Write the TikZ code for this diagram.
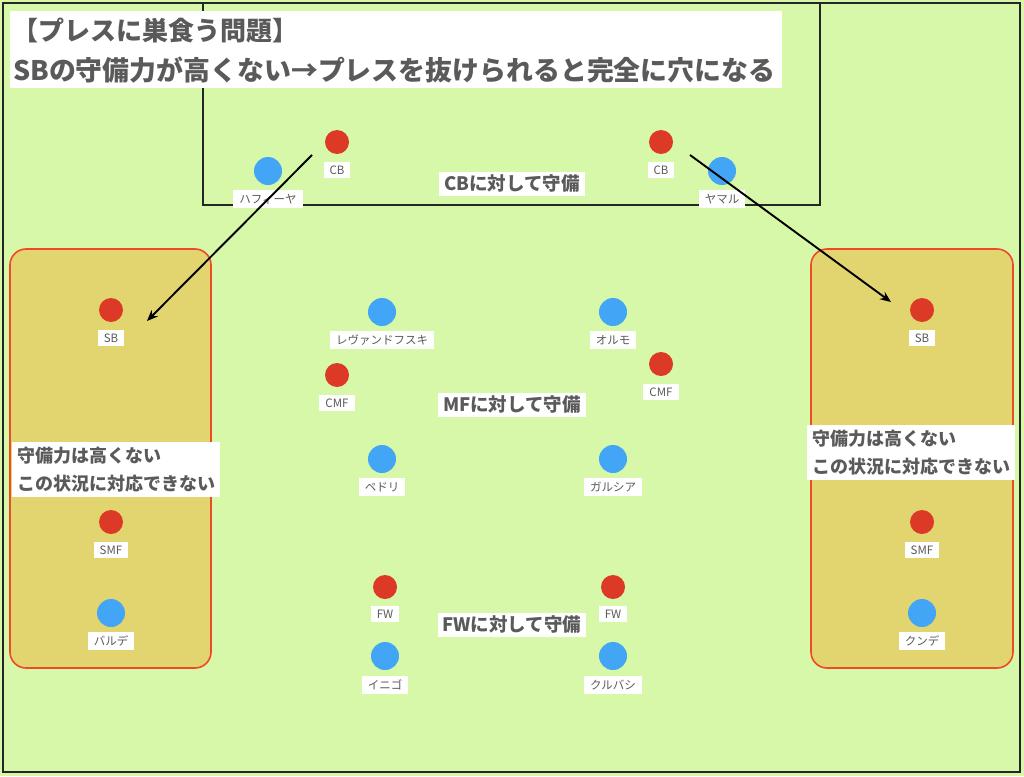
\documentclass[tikz,border=0pt]{standalone}
\usepackage{fontspec}
\newfontfamily\cjk{Noto Sans CJK JP}
\usetikzlibrary{arrows.meta}
\definecolor{pitch}{HTML}{D6F8A8}
\definecolor{zonefill}{HTML}{E2D570}
\definecolor{zoneline}{HTML}{EE4A2A}
\definecolor{reddot}{HTML}{DC3A27}
\definecolor{bluedot}{HTML}{42A5F5}
\definecolor{txt}{HTML}{5A5A5A}
\tikzset{
  rdot/.style={circle,fill=reddot,minimum size=24pt,inner sep=0pt},
  bdot/.style={circle,fill=bluedot,minimum size=28pt,inner sep=0pt},
  tag/.style={fill=white,text=txt,font=\cjk\fontsize{11.5}{13}\selectfont,inner xsep=6pt,inner ysep=4pt},
  zonelbl/.style={fill=white,text=txt,font=\cjk\bfseries\fontsize{18.5}{21}\selectfont,inner xsep=5pt,inner ysep=3pt},
  note/.style={fill=white,text=txt,font=\cjk\bfseries\fontsize{18}{28}\selectfont,align=left,inner xsep=5pt,inner ysep=5pt},
  zone/.style={fill=zonefill,draw=zoneline,line width=1.6pt,rounded corners=16pt},
  fieldline/.style={draw=black!85,line width=1.3pt},
  press/.style={draw=black,line width=1.9pt,-{Stealth[length=11pt,width=9pt]}},
}
\begin{document}
\begin{tikzpicture}[x=1pt,y=-1pt]
\fill[pitch] (0,0) rectangle (1024,776);
\useasboundingbox (0,0) rectangle (1024,776);
\draw[fieldline] (3,3) rectangle (1020,772);
\draw[fieldline] (203,3) -- (203,205) -- (820,205) -- (820,3);
% zones
\draw[zone] (10,249) rectangle (211,668);
\draw[zone] (811,249) rectangle (1013,668);
% title
\fill[white] (10,11) rectangle (782,88);
\node[anchor=west,text=txt,font=\cjk\bfseries\fontsize{26}{30}\selectfont,inner sep=0pt] (title1) at (12,31) {【プレスに巣食う問題】};
\node[anchor=west,text=txt,font=\cjk\bfseries\fontsize{26.9}{30}\selectfont,inner sep=0pt] (title2) at (13,70) {SBの守備力が高くない→プレスを抜けられると完全に穴になる};
% CB line
\node[rdot] (cbL) at (337,142) {};
\node[tag] (cbLt) at (337,170) {CB};
\node[rdot] (cbR) at (661,142) {};
\node[tag] (cbRt) at (661,170) {CB};
\node[bdot] (hafi) at (268,171) {};
\node[tag] (hafit) at (268,199) {ハフィーヤ};
\node[bdot] (yama) at (722,171) {};
\node[tag] (yamat) at (722,199) {ヤマル};
\node[zonelbl] (cbz) at (512,184) {CBに対して守備};
% SB
\node[rdot] (sbL) at (111,310) {};
\node[tag] (sbLt) at (111,338) {SB};
\node[rdot] (sbR) at (922,310) {};
\node[tag] (sbRt) at (922,338) {SB};
% MF area
\node[bdot] (lewa) at (382,312) {};
\node[tag] (lewat) at (382,340) {レヴァンドフスキ};
\node[bdot] (olmo) at (613,312) {};
\node[tag] (olmot) at (613,340) {オルモ};
\node[rdot] (cmfL) at (337,375) {};
\node[tag] (cmfLt) at (337,403) {CMF};
\node[rdot] (cmfR) at (661,364) {};
\node[tag] (cmfRt) at (661,392) {CMF};
\node[zonelbl] (mfz) at (512,405) {MFに対して守備};
\node[bdot] (pedr) at (382,459) {};
\node[tag] (pedrt) at (382,487) {ペドリ};
\node[bdot] (garc) at (613,459) {};
\node[tag] (garct) at (613,487) {ガルシア};
% notes
\node[note,anchor=north west] (noteL) at (12,442) {守備力は高くない\\この状況に対応できない};
\node[note,anchor=north west] (noteR) at (807,425) {守備力は高くない\\この状況に対応できない};
% SMF and wide
\node[rdot] (smfL) at (111,522) {};
\node[tag] (smfLt) at (111,550) {SMF};
\node[rdot] (smfR) at (922,522) {};
\node[tag] (smfRt) at (922,550) {SMF};
\node[bdot] (bald) at (111,613) {};
\node[tag] (baldt) at (111,641) {バルデ};
\node[bdot] (kund) at (922,613) {};
\node[tag] (kundt) at (922,641) {クンデ};
% FW
\node[rdot] (fwL) at (385,587) {};
\node[tag] (fwLt) at (385,614) {FW};
\node[rdot] (fwR) at (613,587) {};
\node[tag] (fwRt) at (613,614) {FW};
\node[zonelbl] (fwz) at (512,625) {FWに対して守備};
\node[bdot] (inig) at (385,656) {};
\node[tag] (inigt) at (385,685) {イニゴ};
\node[bdot] (kuba) at (613,656) {};
\node[tag] (kubat) at (613,685) {クルバシ};
% press arrows
\coordinate (aLs) at (312,155);
\coordinate (aLe) at (147,321);
\coordinate (aRs) at (690,155);
\coordinate (aRe) at (891,302);
\draw[press] (aLs) -- (aLe);
\draw[press] (aRs) -- (aRe);
\end{tikzpicture}
\end{document}
